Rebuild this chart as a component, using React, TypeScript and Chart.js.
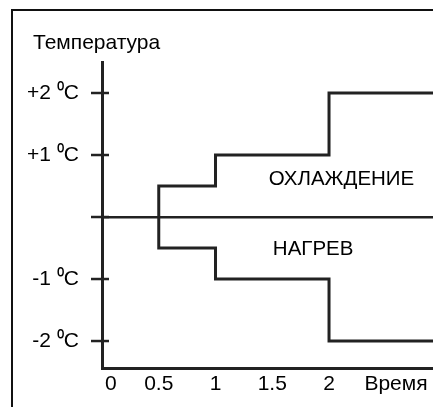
import React, { useEffect, useRef } from "react";
import { Chart, registerables } from "chart.js";

Chart.register(...registerables);

// ---- data ----
const coolingX = [0.5, 0.5, 1, 1, 2, 2, 3];
const coolingY = [0, 0.5, 0.5, 1, 1, 2, 2];
const heatingX = [0.5, 0.5, 1, 1, 2, 2, 3];
const heatingY = [0, -0.5, -0.5, -1, -1, -2, -2];

const xTickValues = [0, 0.5, 1, 1.5, 2, 2.59];
const xTickLabels = ["   0", "0.5", "1", "1.5", "2", "Время"];
const yTickValues = [-2, -1, 0, 1, 2];
const yTickLabels = ["-2 \u2070C", "-1 \u2070C", "", "+1 \u2070C", "+2 \u2070C"];

const titleText = "Температура";
const annotationTexts = ["ОХЛАЖДЕНИЕ", "НАГРЕВ"];
const annotationX = [2.11, 1.86];
const annotationY = [0.6, -0.52];

const FONT = "'Liberation Sans', Arial, Helvetica, sans-serif";
const INK = "#222";

const decorPlugin = {
  id: "decor",
  afterDraw(chart: any) {
    const ctx = chart.ctx;
    const xs = chart.scales.x;
    const ys = chart.scales.y;
    ctx.save();
    // frame
    ctx.strokeStyle = "#111";
    ctx.lineWidth = 2;
    ctx.beginPath();
    ctx.moveTo(12, chart.height);
    ctx.lineTo(12, 10);
    ctx.lineTo(chart.width, 10);
    ctx.stroke();
    // y tick stubs crossing the axis
    const ax = xs.getPixelForValue(0);
    ctx.strokeStyle = INK;
    ctx.lineWidth = 2.5;
    yTickValues.forEach((v) => {
      const py = ys.getPixelForValue(v);
      ctx.beginPath();
      ctx.moveTo(ax - 11, py);
      ctx.lineTo(ax + 7, py);
      ctx.stroke();
    });
    // title
    ctx.fillStyle = "#000";
    ctx.font = `21px ${FONT}`;
    ctx.textAlign = "left";
    ctx.textBaseline = "middle";
    ctx.fillText(titleText, 33, 43);
    // annotation labels
    ctx.font = `20.5px ${FONT}`;
    ctx.textAlign = "center";
    annotationTexts.forEach((t, i) => {
      ctx.fillText(t, xs.getPixelForValue(annotationX[i]), ys.getPixelForValue(annotationY[i]));
    });
    ctx.restore();
  },
};

export default function App() {
  const ref = useRef<HTMLCanvasElement>(null);
  useEffect(() => {
    if (!ref.current) return;
    Chart.defaults.font.family = FONT;
    const chart = new Chart(ref.current, {
      type: "scatter",
      data: {
        datasets: [
          {
            label: "cooling",
            data: coolingX.map((x, i) => ({ x, y: coolingY[i] })),
            showLine: true,
            borderColor: INK,
            borderWidth: 3,
            pointRadius: 0,
            tension: 0,
          },
          {
            label: "heating",
            data: heatingX.map((x, i) => ({ x, y: heatingY[i] })),
            showLine: true,
            borderColor: INK,
            borderWidth: 3,
            pointRadius: 0,
            tension: 0,
          },
        ],
      },
      options: {
        animation: false,
        responsive: false,
        events: [],
        layout: { padding: { left: 0, right: 0, top: 62, bottom: 0 }, autoPadding: false },
        plugins: {
          legend: { display: false },
          tooltip: { enabled: false },
          title: { display: false },
        },
        scales: {
          x: {
            type: "linear",
            min: 0,
            max: 2.916,
            afterBuildTicks: (scale: any) => {
              scale.ticks = xTickValues.map((v) => ({ value: v }));
            },
            afterFit: (scale: any) => {
              scale.height = 39;
            },
            ticks: {
              autoSkip: false,
              maxRotation: 0,
              padding: 4,
              color: "#000",
              font: { family: FONT, size: 21 },
              callback: (_v: any, i: number) => xTickLabels[i],
            },
            grid: { display: false, drawTicks: false },
            border: { display: true, color: INK, width: 3 },
          },
          y: {
            type: "linear",
            min: -2.435,
            max: 2.5,
            afterBuildTicks: (scale: any) => {
              scale.ticks = yTickValues.map((v) => ({ value: v }));
            },
            afterFit: (scale: any) => {
              scale.width = 102;
            },
            ticks: {
              autoSkip: false,
              padding: 23,
              color: "#000",
              font: { family: FONT, size: 21 },
              callback: (_v: any, i: number) => yTickLabels[i],
            },
            grid: {
              drawTicks: false,
              drawOnChartArea: true,
              lineWidth: 2.5,
              color: (c: any) => (c.tick && c.tick.value === 0 ? INK : "rgba(0,0,0,0)"),
            },
            border: { display: true, color: INK, width: 3 },
          },
        },
      } as any,
      plugins: [decorPlugin],
    });
    return () => chart.destroy();
  }, []);
  return (
    <div style={{ position: "absolute", left: 0, top: 0, width: 433, height: 407, background: "#fff" }}>
      <canvas ref={ref} width={433} height={407} style={{ display: "block" }} />
    </div>
  );
}
